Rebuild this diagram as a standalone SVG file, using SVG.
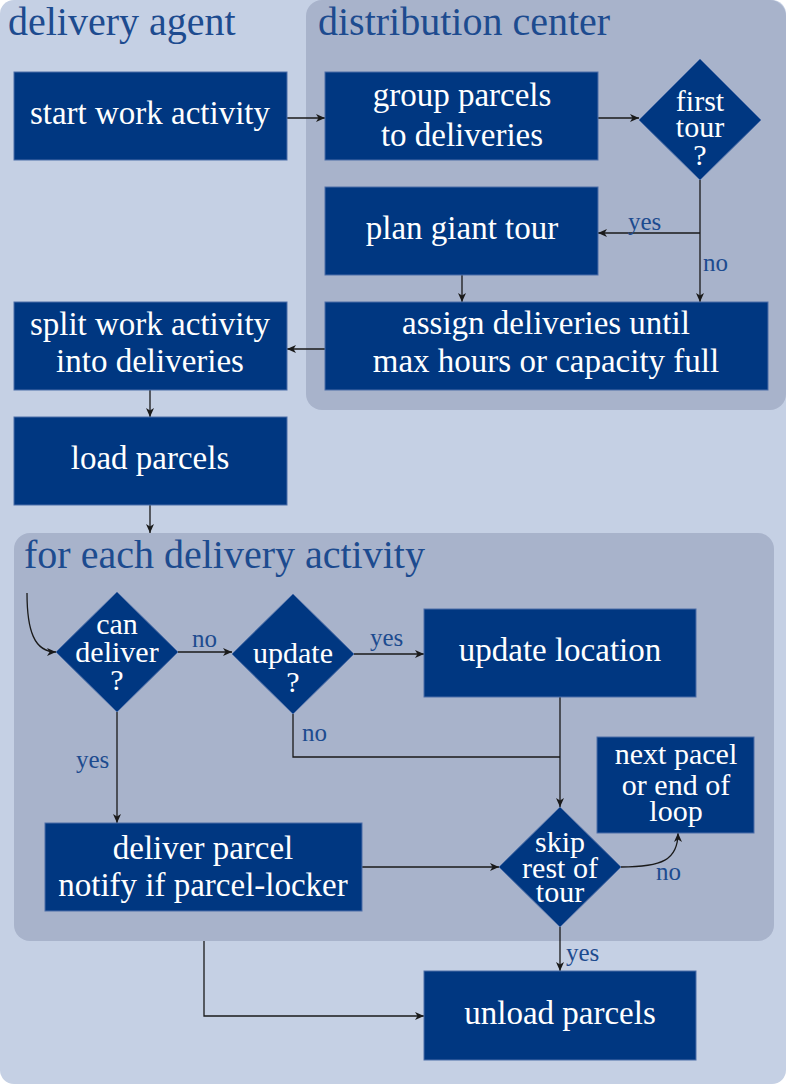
<svg xmlns="http://www.w3.org/2000/svg" width="786" height="1084" viewBox="0 0 786 1084">
<style>
.box{fill:#003781;stroke:#4d6ea8;stroke-width:1}
text{font-family:'Liberation Serif','Times New Roman',serif}
.t{font-size:33px;fill:#ffffff;text-anchor:middle}
.d{font-size:30px;fill:#ffffff;text-anchor:middle}
.title{font-size:40px;fill:#1d4b8f}
.lbl{font-size:25px;fill:#1d4b8f}
.c{fill:none;stroke:#1a1a1a;stroke-width:1.3}
</style>
<defs>
<marker id="ah" markerWidth="10" markerHeight="8" refX="9" refY="4" orient="auto" markerUnits="userSpaceOnUse">
<path d="M0,0 L9,4 L0,8 L2.5,4 Z" fill="#1a1a1a"/>
</marker>
</defs>
<rect x="0" y="0" width="786" height="1084" rx="14" fill="#c5d0e4"/>
<rect x="306" y="0" width="480" height="410" rx="16" fill="#a8b3cb"/>
<rect x="14" y="533" width="760" height="408" rx="16" fill="#a8b3cb"/>
<text class="title" x="8" y="35">delivery agent</text>
<text class="title" x="318" y="35">distribution center</text>
<text class="title" x="24" y="568">for each delivery activity</text>

<g id="connectors">
<path class="c" d="M287,118 H325" marker-end="url(#ah)"/>
<path class="c" d="M598,118 H639" marker-end="url(#ah)"/>
<path class="c" d="M700,180 V302" marker-end="url(#ah)"/>
<path class="c" d="M700,233 H598" marker-end="url(#ah)"/>
<path class="c" d="M462,275 V302" marker-end="url(#ah)"/>
<path class="c" d="M325,349 H287" marker-end="url(#ah)"/>
<path class="c" d="M150,390 V417" marker-end="url(#ah)"/>
<path class="c" d="M150,505 V533" marker-end="url(#ah)"/>
<path class="c" d="M27,593 C27,630 34,652 56,652" marker-end="url(#ah)"/>
<path class="c" d="M178,652 H232" marker-end="url(#ah)"/>
<path class="c" d="M354,654 H424" marker-end="url(#ah)"/>
<path class="c" d="M293,714 V757 H560"/>
<path class="c" d="M560,697 V807" marker-end="url(#ah)"/>
<path class="c" d="M117,712 V823" marker-end="url(#ah)"/>
<path class="c" d="M362,867 H499" marker-end="url(#ah)"/>
<path class="c" d="M621,867 C662,867 678,860 678,833" marker-end="url(#ah)"/>
<path class="c" d="M560,927 V971" marker-end="url(#ah)"/>
<path class="c" d="M204,941 V1016 H424" marker-end="url(#ah)"/>
<text class="lbl" x="628" y="230">yes</text>
<text class="lbl" x="703" y="271">no</text>
<text class="lbl" x="192" y="647">no</text>
<text class="lbl" x="370" y="646">yes</text>
<text class="lbl" x="302" y="741">no</text>
<text class="lbl" x="76" y="768">yes</text>
<text class="lbl" x="656" y="880">no</text>
<text class="lbl" x="566" y="961">yes</text>
</g>

<g id="start"><rect class="box" x="14" y="72" width="273" height="88"/><text class="t" x="150" y="124">start work activity</text></g>
<g id="group"><rect class="box" x="325" y="72" width="273" height="88"/><text class="t" x="462" y="106">group parcels</text><text class="t" x="462" y="146">to deliveries</text></g>
<g id="firsttour"><polygon class="box" points="700,59 761,120 700,180 639,120"/><text class="d" x="700" y="111">first</text><text class="d" x="700" y="137">tour</text><text class="d" x="700" y="165">?</text></g>
<g id="plan"><rect class="box" x="325" y="187" width="273" height="88"/><text class="t" x="462" y="239">plan giant tour</text></g>
<g id="assign"><rect class="box" x="325" y="302" width="443" height="88"/><text class="t" x="546" y="334">assign deliveries until</text><text class="t" x="546" y="372">max hours or capacity full</text></g>
<g id="split"><rect class="box" x="14" y="302" width="273" height="88"/><text class="t" x="150" y="335">split work activity</text><text class="t" x="150" y="372">into deliveries</text></g>
<g id="load"><rect class="box" x="14" y="417" width="273" height="88"/><text class="t" x="150" y="469">load parcels</text></g>
<g id="candeliver"><polygon class="box" points="117,592 178,652 117,712 56,652"/><text class="d" x="117" y="634">can</text><text class="d" x="117" y="662">deliver</text><text class="d" x="117" y="690">?</text></g>
<g id="update"><polygon class="box" points="293,594 354,654 293,714 232,654"/><text class="d" x="293" y="663">update</text><text class="d" x="293" y="692">?</text></g>
<g id="updateloc"><rect class="box" x="424" y="609" width="272" height="88"/><text class="t" x="560" y="661">update location</text></g>
<g id="next"><rect class="box" x="597" y="737" width="157" height="96"/><text class="d" x="676" y="764">next pacel</text><text class="d" x="676" y="795">or end of</text><text class="d" x="676" y="821">loop</text></g>
<g id="skip"><polygon class="box" points="560,807 621,867 560,927 499,867"/><text class="d" x="560" y="852">skip</text><text class="d" x="560" y="878">rest of</text><text class="d" x="560" y="902">tour</text></g>
<g id="deliver"><rect class="box" x="45" y="823" width="317" height="88"/><text class="t" x="203" y="859">deliver parcel</text><text class="t" x="203" y="896">notify if parcel-locker</text></g>
<g id="unload"><rect class="box" x="424" y="971" width="272" height="89"/><text class="t" x="560" y="1024">unload parcels</text></g>
</svg>
